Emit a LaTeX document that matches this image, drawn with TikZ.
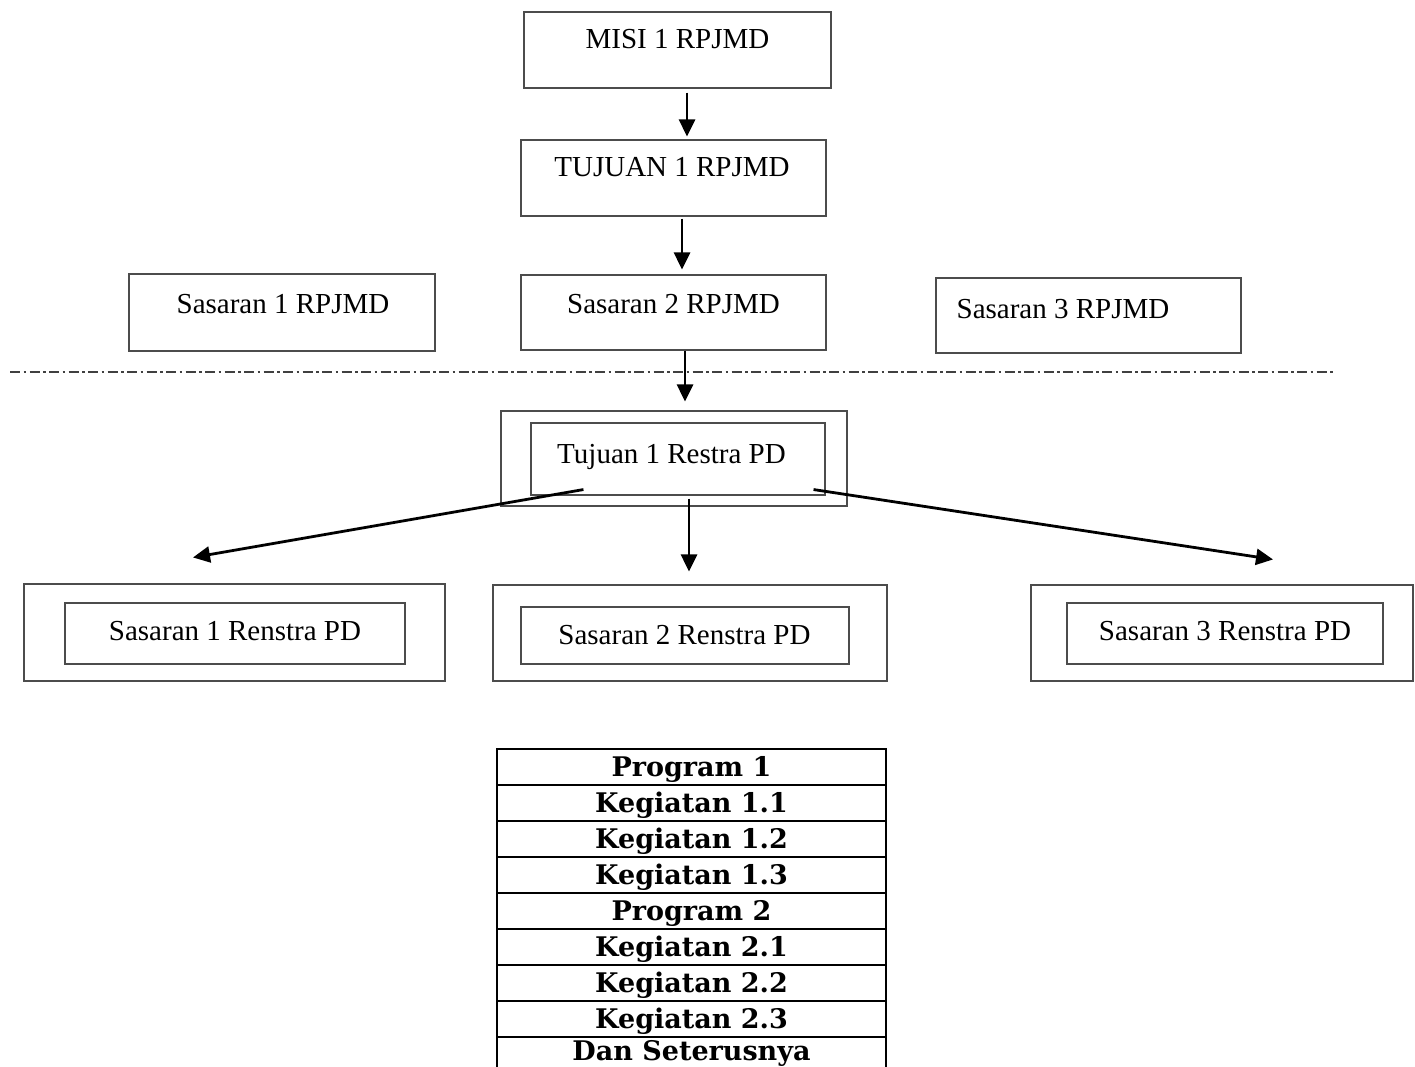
\documentclass[tikz,border=0pt]{standalone}
\usepackage{fontspec}
\setmainfont{Liberation Serif}
\newfontfamily\tablefont{DejaVu Serif}
\usetikzlibrary{arrows.meta}
\begin{document}
\begin{tikzpicture}[x=1pt,y=-1pt,
  box/.style={draw=black!70, line width=1.1pt, rectangle, inner sep=0pt},
  lbl/.style={anchor=base, inner sep=0pt, font=\fontsize{29}{34}\selectfont},
  arr/.style={line width=2.8pt, -{Triangle[length=17pt,width=16pt]}},
  row/.style={draw=black, line width=2pt, minimum width=389pt, minimum height=36pt,
    inner sep=0pt, text height=24pt, text depth=6pt,
    font=\tablefont\bfseries\fontsize{27}{30}\selectfont},
  divider/.style={draw=black!75, line width=1.3pt, dash pattern=on 10pt off 3.5pt on 2.5pt off 3.5pt},
]
\useasboundingbox (0,0) rectangle (1415,1067);
\clip (0,0) rectangle (1415,1067);

% RPJMD level
\node[box, minimum width=307pt, minimum height=76pt] (misi) at (677.5,50) {};
\node[lbl] (misi-t) at (677.5,49) {MISI 1 RPJMD};

\node[box, minimum width=305pt, minimum height=76pt] (tujuan) at (673.5,178) {};
\node[lbl] (tujuan-t) at (672,177) {TUJUAN 1 RPJMD};

\node[box, minimum width=306pt, minimum height=77pt] (sas1) at (282,312.5) {};
\node[lbl] (sas1-t) at (283,313) {Sasaran 1 RPJMD};

\node[box, minimum width=305pt, minimum height=75pt] (sas2) at (673.5,312.5) {};
\node[lbl] (sas2-t) at (673.5,313) {Sasaran 2 RPJMD};

\node[box, minimum width=305pt, minimum height=75pt] (sas3) at (1088.5,315.5) {};
\node[lbl] (sas3-t) at (1063,318) {Sasaran 3 RPJMD};

% boundary between RPJMD and Renstra PD
\draw[divider] (10,372) -- (1335,372);

% Renstra PD level
\node[box, minimum width=346pt, minimum height=95pt] (restra) at (674,458.5) {};
\node[box, minimum width=294pt, minimum height=72pt] (restra-in) at (678,459) {};
\node[lbl] (restra-t) at (671.5,463) {Tujuan 1 Restra PD};

\node[box, minimum width=421pt, minimum height=97pt] (s1r) at (234.5,632.5) {};
\node[box, minimum width=340pt, minimum height=61pt] (s1r-in) at (235,633.5) {};
\node[lbl] (s1r-t) at (235,640) {Sasaran 1 Renstra PD};

\node[box, minimum width=394pt, minimum height=96pt] (s2r) at (690,633) {};
\node[box, minimum width=328pt, minimum height=57pt] (s2r-in) at (685,635.5) {};
\node[lbl] (s2r-t) at (684.5,644) {Sasaran 2 Renstra PD};

\node[box, minimum width=382pt, minimum height=96pt] (s3r) at (1222,633) {};
\node[box, minimum width=316pt, minimum height=61pt] (s3r-in) at (1225,633.5) {};
\node[lbl] (s3r-t) at (1225,640) {Sasaran 3 Renstra PD};

% connectors
\draw[arr] ([xshift=9.5pt,yshift=-4pt]misi.south) -- ([xshift=13.5pt,yshift=3pt]tujuan.north);
\draw[arr] ([xshift=8.5pt,yshift=-2pt]tujuan.south) -- ([xshift=8.5pt,yshift=5pt]sas2.north);
\draw[arr] ([xshift=11.5pt]sas2.south) -- ([xshift=11pt,yshift=9pt]restra.north);
\draw[arr] ([xshift=11pt,yshift=-3pt]restra-in.south) -- ([xshift=-1pt,yshift=13pt]s2r.north);
\draw[arr] ([xshift=53pt,yshift=6pt]restra-in.south west) -- ([xshift=-41.5pt,yshift=26pt]s1r.north);
\draw[arr] ([xshift=-12pt,yshift=6pt]restra-in.south east) -- ([xshift=51pt,yshift=25pt]s3r.north);

% programme and activity list
\node[row] (r1) at (691.5,767) {Program 1};
\node[row] (r2) at (691.5,803) {Kegiatan 1.1};
\node[row] (r3) at (691.5,839) {Kegiatan 1.2};
\node[row] (r4) at (691.5,875) {Kegiatan 1.3};
\node[row] (r5) at (691.5,911) {Program 2};
\node[row] (r6) at (691.5,947) {Kegiatan 2.1};
\node[row] (r7) at (691.5,983) {Kegiatan 2.2};
\node[row] (r8) at (691.5,1019) {Kegiatan 2.3};
\node[row, text height=20pt, text depth=10pt] (r9) at (691.5,1055) {Dan Seterusnya};
\end{tikzpicture}
\end{document}
